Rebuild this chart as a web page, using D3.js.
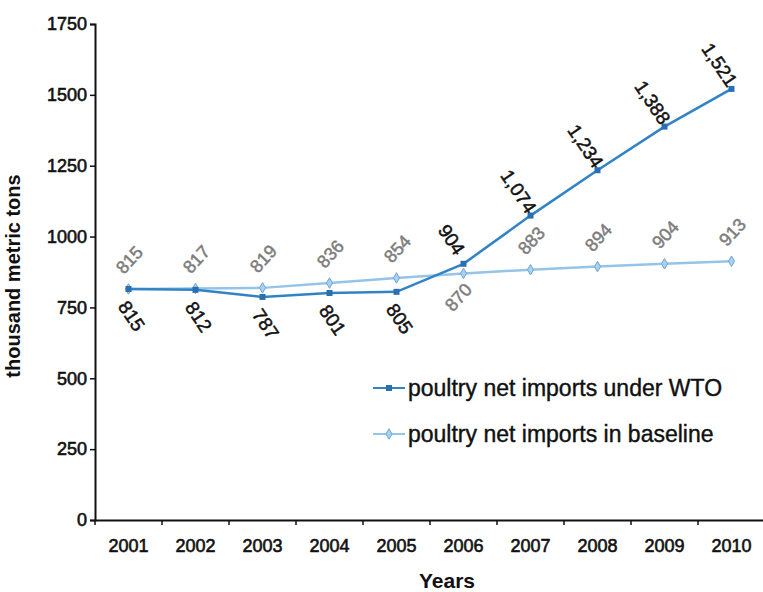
<!DOCTYPE html>
<html>
<head>
<meta charset="utf-8">
<script src="https://cdn.jsdelivr.net/npm/d3@7"></script>
<style>
  body { margin: 0; background: #fff; }
  svg text { font-family: "Liberation Sans", Arial, sans-serif; }
</style>
</head>
<body>
<svg id="chart" width="763" height="592"></svg>
<script>
// Chart data.
const years = ["2001", "2002", "2003", "2004", "2005", "2006", "2007", "2008", "2009", "2010"];
const wtoImports = [815, 812, 787, 801, 805, 904, 1074, 1234, 1388, 1521];
const baselineImports = [815, 817, 819, 836, 854, 870, 883, 894, 904, 913];
const yTicks = [0, 250, 500, 750, 1000, 1250, 1500, 1750];
const seriesNames = ["poultry net imports under WTO", "poultry net imports in baseline"];
const baselineLabelsBelow = ["2006"];  // where the lines cross

const svg = d3.select("#chart");
const margin = { top: 24, right: -2, bottom: 72, left: 95 };
const width = 763 - margin.left - margin.right;
const height = 592 - margin.top - margin.bottom;

const g = svg.append("g").attr("transform", `translate(${margin.left},${margin.top})`);

const x = d3.scaleBand().domain(years).range([0, width]);
const y = d3.scaleLinear().domain([0, 1750]).range([height, 0]);

const colWto = "#3183c6";
const colBase = "#95c4e8";

// thicken text a little, the reference is a blurry scan
const heavy = (sel, color, w) => sel.attr("fill", color)
  .attr("stroke", color).attr("stroke-width", w).attr("paint-order", "stroke");

// Axes
const yAxis = g.append("g")
  .call(d3.axisLeft(y).tickValues(yTicks).tickSize(5).tickPadding(3).tickFormat(d3.format("d")));
yAxis.select(".domain").attr("stroke", "#111").attr("stroke-width", 2);
yAxis.selectAll(".tick line").attr("stroke", "#111").attr("stroke-width", 1.5);
yAxis.selectAll(".tick text").attr("font-size", 18).call(heavy, "#111", 0.6);

const xAxis = g.append("g").attr("transform", `translate(0,${height})`)
  .call(d3.axisBottom(x).tickSize(0).tickPadding(19));
xAxis.select(".domain").attr("stroke", "#111").attr("stroke-width", 2);
xAxis.selectAll(".tick text").attr("font-size", 18).call(heavy, "#111", 0.6);

// Tick marks sit on the category boundaries
const bounds = years.map(d => x(d)).concat([x.range()[1]]);
g.append("g").selectAll("line").data(bounds).join("line")
  .attr("x1", d => d).attr("x2", d => d)
  .attr("y1", height).attr("y2", height + 5)
  .attr("stroke", "#111").attr("stroke-width", 1.5);

// Axis titles
g.append("text")
  .attr("transform", `translate(${-75},${height / 2 + 4}) rotate(-90)`)
  .attr("text-anchor", "middle")
  .attr("font-size", 20).attr("font-weight", "bold").attr("fill", "#111")
  .text("thousand metric tons");

g.append("text")
  .attr("x", width / 2 + 17).attr("y", height + 68)
  .attr("text-anchor", "middle")
  .attr("font-size", 21).attr("font-weight", "bold").attr("fill", "#111")
  .text("Years");

const cx = d => x(d) + x.bandwidth() / 2;
const line = d3.line().x(d => cx(d.year)).y(d => y(d.value));

const wtoData = years.map((year, i) => ({ year, value: wtoImports[i], other: baselineImports[i] }));
const baseData = years.map((year, i) => ({ year, value: baselineImports[i], other: wtoImports[i] }));

// Baseline series
g.append("path").datum(baseData)
  .attr("fill", "none").attr("stroke", colBase).attr("stroke-width", 2.5)
  .attr("d", line);
g.append("g").selectAll("path").data(baseData).join("path")
  .attr("transform", d => `translate(${cx(d.year)},${y(d.value)})`)
  .attr("d", d3.symbol(d3.symbolDiamond, 32))
  .attr("fill", "#a9d0ee").attr("stroke", "#6aa8d8").attr("stroke-width", 1);

// WTO series
g.append("path").datum(wtoData)
  .attr("fill", "none").attr("stroke", colWto).attr("stroke-width", 2.5)
  .attr("d", line);
g.append("g").selectAll("path").data(wtoData).join("path")
  .attr("transform", d => `translate(${cx(d.year)},${y(d.value)})`)
  .attr("d", d3.symbol(d3.symbolSquare, 36))
  .attr("fill", "#2a6fb0");

// Data labels
const fmt = d3.format(",");
g.append("g").selectAll("text").data(wtoData).join("text")
  .attr("transform", d => {
    const above = d.value > d.other;
    const dx = above ? -12 : 3;
    const dy = above ? -24 : 27;
    return `translate(${cx(d.year) + dx},${y(d.value) + dy}) rotate(56)`;
  })
  .attr("text-anchor", "middle").attr("dominant-baseline", "central")
  .attr("font-size", 19).call(heavy, "#111", 0.5)
  .text(d => fmt(d.value));

g.append("g").selectAll("text").data(baseData).join("text")
  .attr("transform", d => {
    const below = baselineLabelsBelow.includes(d.year);
    const dx = below ? -5 : 1;
    const dy = below ? 24 : -29;
    return `translate(${cx(d.year) + dx},${y(d.value) + dy}) rotate(-47)`;
  })
  .attr("text-anchor", "middle").attr("dominant-baseline", "central")
  .attr("font-size", 18).call(heavy, "#7d7d7d", 0.5)
  .text(d => fmt(d.value));

// Legend
const legend = svg.append("g").attr("transform", "translate(373,388)");
const legendItems = [
  { name: seriesNames[0], stroke: colWto, sym: d3.symbolSquare, size: 36, fill: "#2a6fb0", outline: "none" },
  { name: seriesNames[1], stroke: colBase, sym: d3.symbolDiamond, size: 32, fill: "#a9d0ee", outline: "#6aa8d8" }
];
const item = legend.selectAll("g").data(legendItems).join("g")
  .attr("transform", (d, i) => `translate(0,${i * 46})`);
item.append("line").attr("x1", 0).attr("x2", 32)
  .attr("stroke", d => d.stroke).attr("stroke-width", 2);
item.append("path").attr("transform", "translate(16,0)")
  .attr("d", d => d3.symbol(d.sym, d.size)())
  .attr("fill", d => d.fill).attr("stroke", d => d.outline);
item.append("text").attr("x", 35).attr("y", 0)
  .attr("dominant-baseline", "central")
  .attr("font-size", 23).call(heavy, "#111", 0.4)
  .text(d => d.name);
</script>
</body>
</html>
